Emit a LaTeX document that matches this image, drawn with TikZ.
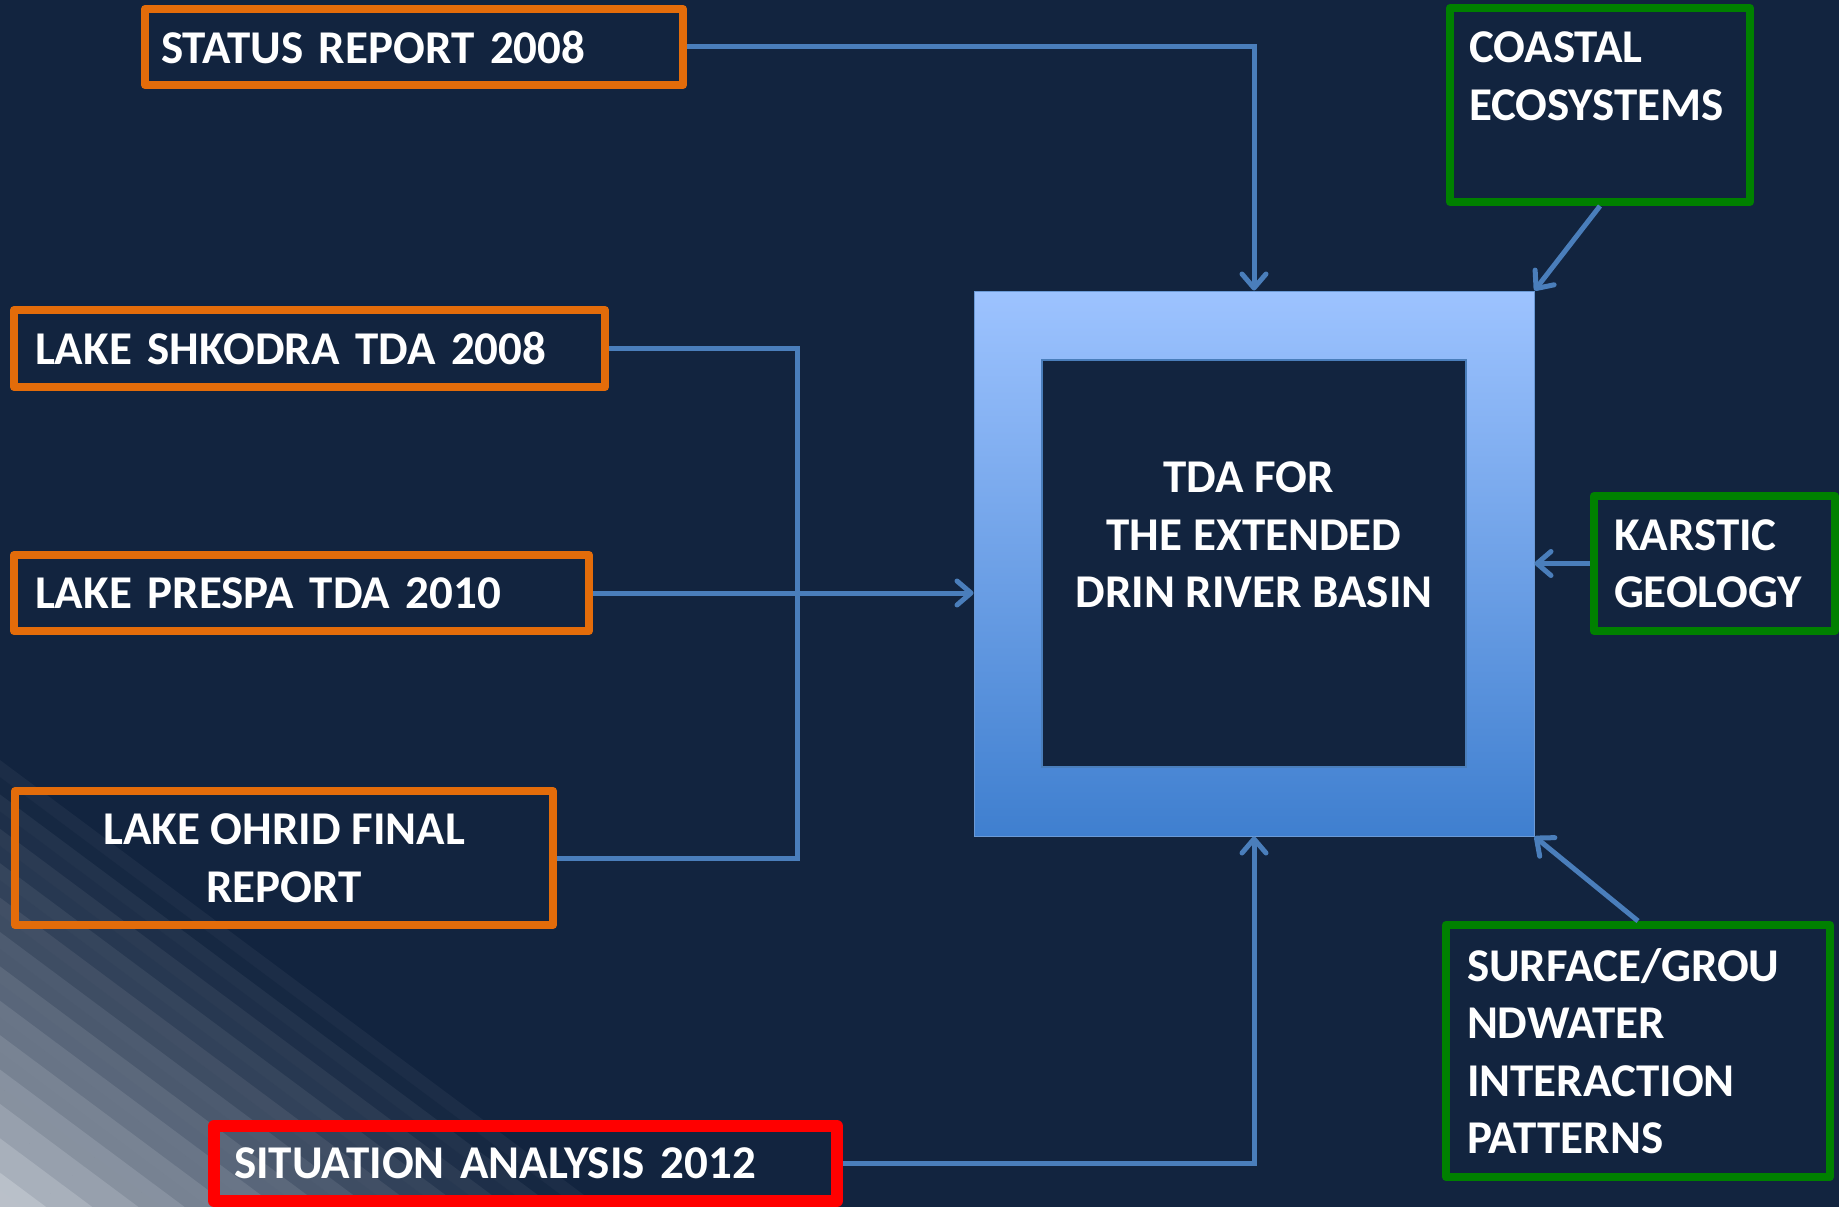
\documentclass[tikz,border=0pt]{standalone}
\usepackage{fontspec}
\setmainfont{Carlito}
\usetikzlibrary{arrows.meta}
\definecolor{bg}{HTML}{12243F}
\definecolor{cornercol}{RGB}{190,196,205}
\definecolor{orng}{HTML}{E36C0A}
\definecolor{grn}{HTML}{008000}
\definecolor{redc}{HTML}{FF0000}
\definecolor{conn}{HTML}{4A7EBB}
\definecolor{frametop}{HTML}{9DC3FF}
\definecolor{framebot}{HTML}{3F7FCF}
\begin{document}
\begin{tikzpicture}[x=1pt,y=-1pt,
  txt/.style={text=white, font=\fontsize{47}{57.5}\selectfont\bfseries},
  box/.style={txt, draw, line width=8pt, line join=round, inner sep=0pt},
  obox/.style={box, draw=orng},
  gbox/.style={box, draw=grn},
  rbox/.style={box, draw=redc, line width=12pt},
  link/.style={draw=conn, line width=5pt},
  arr/.style={link, -{Straight Barb[length=14pt,width=24pt,round]}},
]
\useasboundingbox (0,0) rectangle (1839,1207);
\fill[bg] (0,0) rectangle (1839,1207);
% striped light corner
\begin{scope}
\clip (0,0) rectangle (1839,1207);
\foreach \k in {0,...,25}{
  \pgfmathsetmacro\sa{\k*358.5/26}
  \pgfmathsetmacro\sb{(\k+1.05)*358.5/26}
  \pgfmathsetmacro\tt{(\k+0.5)/26}
  \pgfmathsetmacro\pp{min(100,100*\tt^1.35 + (mod(\k,2)==0 ? 5 : 0))}
  \fill[cornercol!\pp!bg] (0,{760+\sa/0.8019}) -- (0,{760+\sb/0.8019}) -- ({(358.5-\sb)/0.5974},1207) -- ({(358.5-\sa)/0.5974},1207) -- cycle;
}
\end{scope}
% central frame
\node (tda) at (1254,563.5) [minimum width=560pt, minimum height=545pt, inner sep=0pt,
   top color=frametop, bottom color=framebot, draw=conn!60!frametop, line width=1pt] {};
\node (core) at (tda.center) [txt, minimum width=424pt, minimum height=407pt, inner sep=0pt,
   fill=bg, draw=conn, line width=1.5pt, align=center] {TDA FOR\hspace*{11pt}\\THE EXTENDED\hspace*{11pt}\\DRIN RIVER BASIN\hspace*{4pt}\\\mbox{}};
% boxes
\node (status) at (414,47) [obox, minimum width=538pt, minimum height=76pt, text width=506pt, align=left] {STATUS REPORT 2008};
\node (coastal) at (1600,105) [gbox, minimum width=300pt, minimum height=194pt, text width=262pt, align=left] {COASTAL\\ECOSYSTEMS\\\mbox{}};
\node (shkodra) at (309.5,348.5) [obox, minimum width=591pt, minimum height=77pt, text width=549pt, align=left] {LAKE SHKODRA TDA 2008};
\node (prespa) at (301.5,593) [obox, minimum width=575pt, minimum height=76pt, text width=533pt, align=left] {LAKE PRESPA TDA 2010};
\node (ohrid) at (284,858) [obox, minimum width=538pt, minimum height=134pt, align=center] {LAKE OHRID FINAL\\REPORT};
\node (situation) at (525.5,1163.5) [rbox, minimum width=623pt, minimum height=75pt, text width=583pt, align=left] {SITUATION ANALYSIS 2012};
\node (karstic) at (1714.5,563.5) [gbox, minimum width=241pt, minimum height=135pt, text width=201pt, align=left] {KARSTIC\\GEOLOGY};
\node (surface) at (1638,1051) [gbox, minimum width=384pt, minimum height=252pt, text width=342pt, align=left] {SURFACE/GROU\\NDWATER\\INTERACTION\\PATTERNS};
% connectors
\coordinate (busx) at (797,0);
\draw[arr] (status.east) -| (tda.north);
\draw[arr] (coastal.south) -- (tda.north east);
\draw[link] (shkodra.east) -- (shkodra.east -| busx) |- (ohrid.east);
\draw[arr] (prespa.east) -- (prespa.east -| tda.west);
\draw[arr] (situation.east) -| (tda.south);
\draw[arr] (karstic.west) -- (karstic.west -| tda.east);
\draw[arr] (surface.north) -- (tda.south east);
\end{tikzpicture}
\end{document}
